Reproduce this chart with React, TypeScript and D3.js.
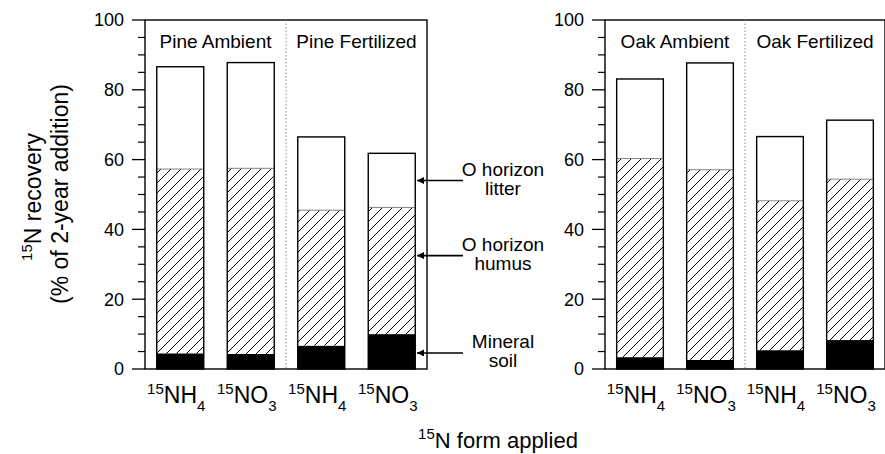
import React from 'react'
import * as d3 from 'd3'

// 15N recovery (% of 2-year addition) by layer
const forms = ['NH4', 'NO3', 'NH4', 'NO3']
const pineGroups = ['Pine Ambient', 'Pine Fertilized']
const oakGroups = ['Oak Ambient', 'Oak Fertilized']
const pineMineral = [4.5, 4.3, 6.7, 10.0]
const pineHumus = [52.8, 53.2, 38.8, 36.3]
const pineLitter = [29.3, 30.3, 21.0, 15.5]
const oakMineral = [3.4, 2.6, 5.4, 8.3]
const oakHumus = [56.9, 54.5, 42.8, 46.1]
const oakLitter = [22.8, 30.6, 18.4, 16.9]
const yTicks = [0, 20, 40, 60, 80, 100]
const layers = ['mineral', 'humus', 'litter']
// where the arrows on the right side of the pine panel point
const notes = [
  { lines: ['O horizon', 'litter'], value: 54 },
  { lines: ['O horizon', 'humus'], value: 32.5 },
  { lines: ['Mineral', 'soil'], value: 4.6 },
]

const W = 885
const H = 454
const top = 20
const bottom = 369
const font = '"Liberation Sans", Arial, Helvetica, sans-serif'

const y = d3.scaleLinear().domain([0, 100]).range([bottom, top])
const minorTicks = d3.range(0, 101, 5).filter(v => v % 20 !== 0)

function Panel(props: { x0: number; x1: number; groups: string[]; mineral: number[]; humus: number[]; litter: number[] }) {
  const { x0, x1, groups, mineral, humus, litter } = props
  const idx = forms.map((_, i) => String(i))
  const x = d3.scaleBand().domain(idx).range([x0, x1]).paddingInner(1 / 3).paddingOuter(1 / 6)
  const table = forms.map((f, i) => ({ mineral: mineral[i], humus: humus[i], litter: litter[i] }))
  const series = d3.stack<any>().keys(layers)(table)
  const mid = (x0 + x1) / 2
  const fills: Record<string, string> = { mineral: '#000', humus: 'url(#hatch)', litter: '#fff' }

  return (
    <g>
      {series.map(s => (
        <g key={s.key}>
          {s.map((d, i) => (
            <rect key={i} x={x(String(i))} width={x.bandwidth()} y={y(d[1])} height={y(d[0]) - y(d[1])}
              fill={fills[s.key]} stroke="none" />
          ))}
        </g>
      ))}
      {series[1].map((d, i) => (
        <line key={i} x1={x(String(i))} x2={(x(String(i)) as number) + x.bandwidth()} y1={y(d[1])} y2={y(d[1])}
          stroke="#666" strokeWidth={0.8} />
      ))}
      {series[2].map((d, i) => (
        <rect key={i} x={x(String(i))} width={x.bandwidth()} y={y(d[1])} height={y(0) - y(d[1])}
          fill="none" stroke="#000" strokeWidth={1.4} />
      ))}
      {/* frame */}
      <rect x={x0} y={top} width={x1 - x0} height={bottom - top} fill="none" stroke="#000" strokeWidth={1.4} />
      <line x1={mid} x2={mid} y1={top} y2={bottom} stroke="#888" strokeWidth={1} strokeDasharray="1.5,2" />
      {yTicks.map(t => (
        <g key={t}>
          <line x1={x0 - 13} x2={x0} y1={y(t)} y2={y(t)} stroke="#000" strokeWidth={1.3} />
          <text x={x0 - 21} y={y(t)} dy="0.36em" textAnchor="end" fontSize={18}>{t}</text>
        </g>
      ))}
      {minorTicks.map(t => (
        <line key={t} x1={x0 - 7} x2={x0} y1={y(t)} y2={y(t)} stroke="#000" strokeWidth={1.2} />
      ))}
      {groups.map((g, i) => (
        <text key={g} x={(x0 + mid) / 2 + i * (mid - x0)} y={48} textAnchor="middle" fontSize={19}>{g}</text>
      ))}
      {forms.map((f, i) => (
        <text key={i} x={(x(String(i)) as number) + x.bandwidth() / 2 - 4} y={403} textAnchor="middle" fontSize={23}>
          <tspan fontSize={15} dy={-9}>15</tspan>
          <tspan dy={9}>{f.slice(0, 2)}</tspan>
          <tspan fontSize={15} dy={8}>{f.slice(2)}</tspan>
        </text>
      ))}
    </g>
  )
}

export default function App() {
  return (
    <svg width={W} height={H} style={{ position: 'absolute', left: 0, top: 0, background: '#fff' }}
      fontFamily={font}>
      <defs>
        <pattern id="hatch" patternUnits="userSpaceOnUse" width={10} height={10}>
          <rect width={10} height={10} fill="#fff" />
          <path d="M0,10 L10,0 M-2,2 L2,-2 M8,12 L12,8" stroke="#000" strokeWidth={1} />
        </pattern>
        <marker id="arrow" viewBox="0 0 10 10" refX={10} refY={5} markerWidth={10} markerHeight={7}
          markerUnits="userSpaceOnUse" orient="auto">
          <path d="M0,0 L10,5 L0,10 z" fill="#000" />
        </marker>
      </defs>
      <Panel x0={145} x1={427} groups={pineGroups} mineral={pineMineral} humus={pineHumus} litter={pineLitter} />
      <Panel x0={605} x1={885} groups={oakGroups} mineral={oakMineral} humus={oakHumus} litter={oakLitter} />

      {notes.map(n => (
        <g key={n.lines[1]}>
          <line x1={463} x2={417} y1={y(n.value)} y2={y(n.value)} stroke="#000" strokeWidth={1.6} markerEnd="url(#arrow)" />
          <text x={503} y={y(n.value) - 5} textAnchor="middle" fontSize={19}>{n.lines[0]}</text>
          <text x={503} y={y(n.value) + 14} textAnchor="middle" fontSize={19}>{n.lines[1]}</text>
        </g>
      ))}

      <g transform="translate(41,197) rotate(-90)">
        <text textAnchor="middle" fontSize={23}>
          <tspan fontSize={15} dy={-9}>15</tspan>
          <tspan dy={9}>N recovery</tspan>
        </text>
      </g>
      <g transform="translate(68,194) rotate(-90)">
        <text textAnchor="middle" fontSize={23}>(% of 2-year addition)</text>
      </g>
      <text x={498} y={448} textAnchor="middle" fontSize={22}>
        <tspan fontSize={15} dy={-9}>15</tspan>
        <tspan dy={9}>N form applied</tspan>
      </text>
    </svg>
  )
}
